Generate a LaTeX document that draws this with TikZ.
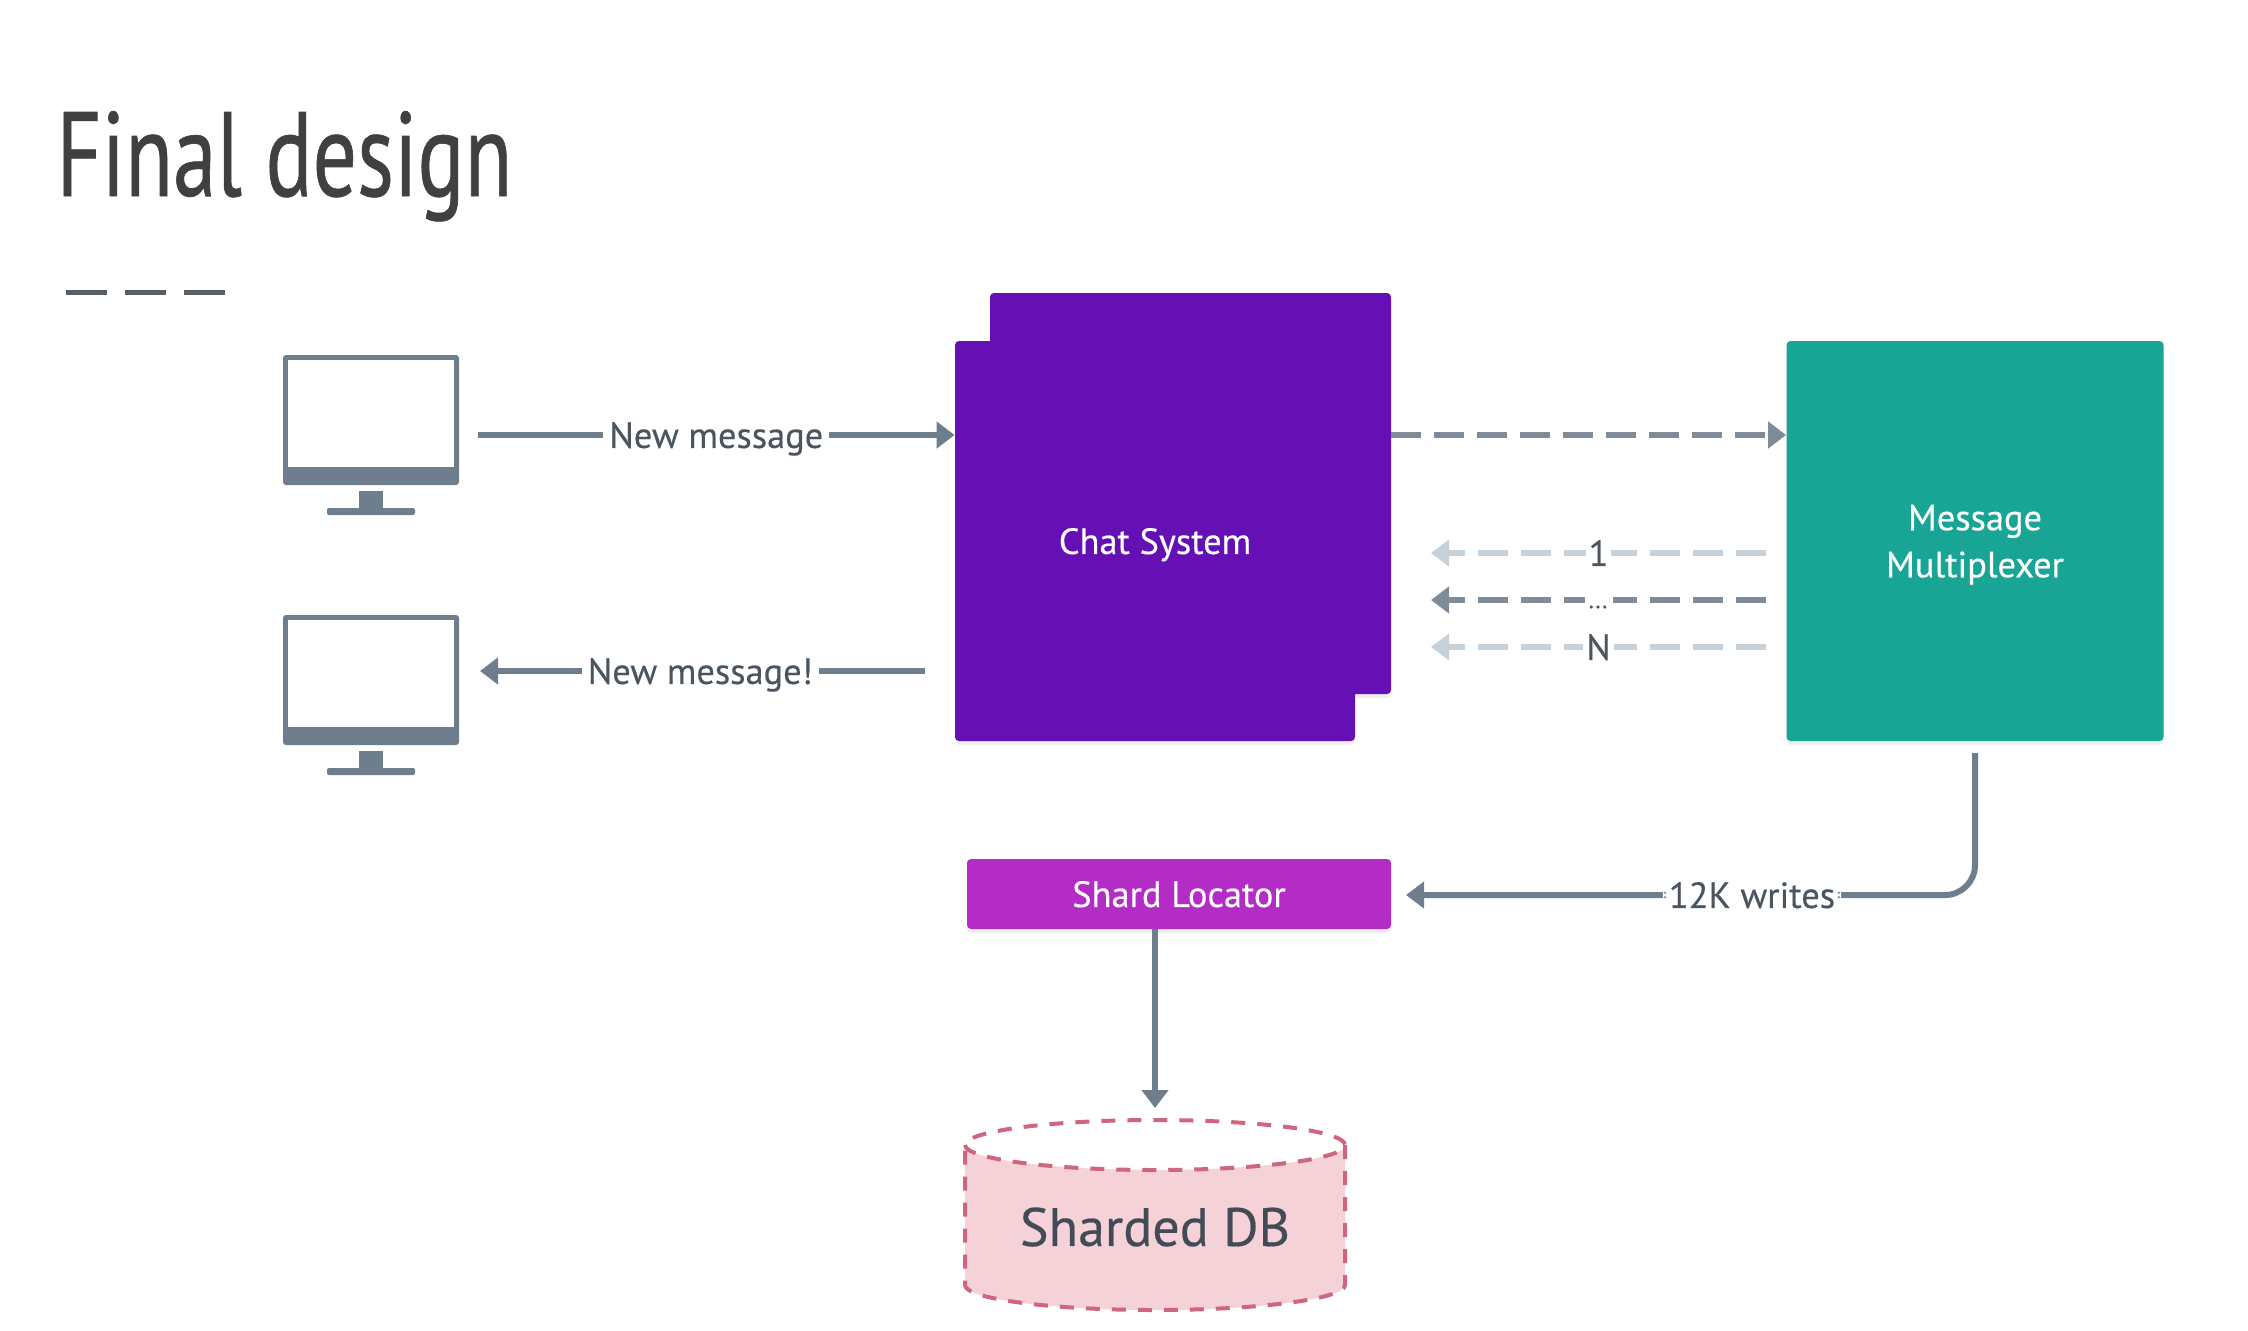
\documentclass[tikz,border=0pt]{standalone}
\usepackage{fontspec}
\setmainfont[FakeBold=0.35]{PT Sans}
\newfontfamily\titlefont[FakeStretch=0.73,FakeBold=0.5]{PT Sans}
\usetikzlibrary{arrows.meta,shadows,positioning}
\definecolor{purp}{HTML}{6410B4}
\definecolor{teal2}{HTML}{19A595}
\definecolor{magen}{HTML}{B42CC6}
\definecolor{greyc}{HTML}{6E7E8C}
\definecolor{greydash}{HTML}{7F8C97}
\definecolor{greylight}{HTML}{C6D1D9}
\definecolor{labelc}{HTML}{4A5560}
\definecolor{titlec}{HTML}{404040}
\definecolor{pinkf}{HTML}{F5D1D8}
\definecolor{pinkd}{HTML}{CF6680}
\tikzset{
  softshadow/.style={drop shadow={shadow xshift=0pt,shadow yshift=-2pt,opacity=.12}},
  boxn/.style={rectangle,rounded corners=2pt,inner sep=0pt,text=white,align=center,softshadow,text depth=0pt,
    font=\fontsize{18.2}{23.5}\selectfont},
  conn/.style={draw=greyc,line width=3pt,-{Triangle[length=9pt,width=13pt]}},
  dashc/.style={line width=3pt,dash pattern=on 15pt off 6.5pt,-{Triangle[length=9pt,width=13pt]}},
  lbl/.style={fill=white,inner sep=3pt,text=labelc,text depth=0pt,font=\fontsize{18.2}{20}\selectfont},
  monitor/.pic={
    \fill[greyc,rounded corners=1.5pt] (0,0) rectangle (176,130);
    \fill[white] (5,5) rectangle (171,112);
    \fill[greyc] (76,136) rectangle (100,157);
    \fill[greyc,rounded corners=1pt] (44,153) rectangle (132,160);
  }
}
\begin{document}
\begin{tikzpicture}[x=0.5pt,y=-0.5pt]
\useasboundingbox (0,0) rectangle (2248,1330);
\fill[white] (0,0) rectangle (2248,1330);
% title
\node[anchor=base west,inner sep=0pt,text=titlec,font=\titlefont\fontsize{60}{60}\selectfont] (title) at (56,196) {Final design};
\coordinate (d1a) at (66,292); \coordinate (d1b) at (226,292);
\draw[line width=2.5pt,draw=greyc!50!titlec,dash pattern=on 20.5pt off 9pt] (d1a) -- (d1b);
% monitors
\pic at (283,355) {monitor};
\pic at (283,615) {monitor};
% boxes
\node[boxn,fill=purp,minimum width=200.5pt,minimum height=200.5pt] (chatb) at (1190.5,493.5) {};
\node[boxn,fill=purp,minimum width=200pt,minimum height=200pt] (chatf) at (1155,541) {Chat System};
\node[boxn,fill=teal2,minimum width=188.5pt,minimum height=200pt] (mm) at (1975,541) {Message\\Multiplexer};
\node[boxn,fill=magen,minimum width=212pt,minimum height=35pt] (shard) at (1179,894) {Shard Locator};
% connectors
\coordinate (a1s) at (478,435);
\draw[conn] (a1s) -- node[lbl,pos=0.5]{New message} (a1s -| chatf.west);
\coordinate (a2e) at (480,671); \coordinate (a2s) at (925,671);
\draw[conn] (a2s) -- node[lbl,pos=0.505]{New message!} (a2e);
\coordinate (a3s) at (1391,435);
\draw[dashc,draw=greydash] (a3s) -- (a3s -| mm.west);
\coordinate (l1s) at (1766,553); \coordinate (l1e) at (1431,553);
\coordinate (l2s) at (1766,600); \coordinate (l2e) at (1431,600);
\coordinate (l3s) at (1766,647); \coordinate (l3e) at (1431,647);
\draw[dashc,draw=greylight] (l1s) -- node[lbl,inner sep=1.5pt,pos=0.5]{1} (l1e);
\draw[dashc,draw=greydash] (l2s) -- node[fill=white,inner sep=0pt,minimum width=14pt,minimum height=4pt,pos=0.5](gap){} (l2e);
\node[inner sep=0pt,text=labelc,font=\fontsize{12}{12}\selectfont] (dots) at (1598,607) {...};
\draw[dashc,draw=greylight] (l3s) -- node[lbl,inner sep=1.5pt,pos=0.5]{N} (l3e);
\coordinate (ws) at (1975,753); \coordinate (we) at (1406,895);
\draw[conn,rounded corners=15pt] (ws) |- node[lbl,pos=0.696]{12K writes} (we);
% database
\path[fill=pinkf] (965,1145) arc[x radius=190,y radius=25,start angle=180,end angle=0] -- (1345,1285) arc[x radius=190,y radius=25,start angle=0,end angle=180] -- cycle;
\draw[draw=pinkd,line width=2pt,dash pattern=on 7pt off 6pt] (965,1145) arc[x radius=190,y radius=25,start angle=180,end angle=-180];
\draw[draw=pinkd,line width=2pt,dash pattern=on 7pt off 6pt] (1345,1145) -- (1345,1285) arc[x radius=190,y radius=25,start angle=0,end angle=180] -- (965,1145);
\node[inner sep=0pt,text=labelc!90!black,font=\fontsize{27}{30}\selectfont] (db) at (1155,1227) {Sharded DB};
\coordinate (dbin) at (1155,1108);
\draw[conn] (shard.south -| db) -- (dbin);
\end{tikzpicture}
\end{document}
